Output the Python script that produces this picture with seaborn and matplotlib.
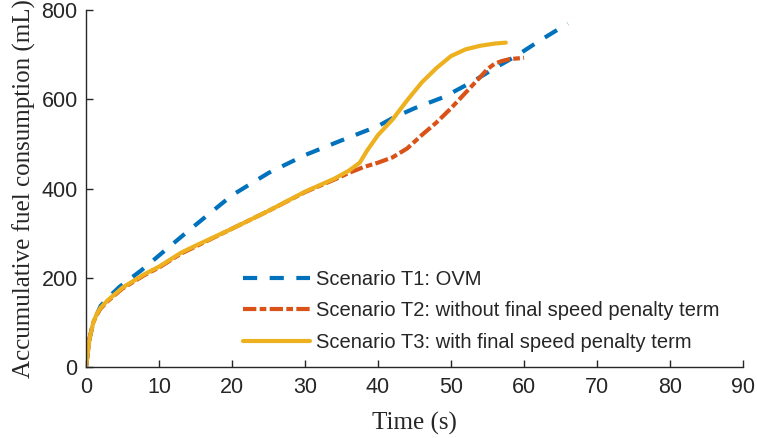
import pandas as pd
import seaborn as sns
import matplotlib
matplotlib.use("Agg")
import matplotlib.pyplot as plt

# Scenario T1: OVM
t1_time = [0, 0.5, 1, 2, 3, 4.6, 7.6, 10, 14, 17, 20, 25, 30, 35, 40, 42, 45,
           49, 53, 56, 59, 62, 64, 66]
t1_fuel = [0, 65, 100, 137, 155, 180, 217, 250, 305, 345, 385, 435, 475, 508,
           540, 558, 580, 605, 640, 670, 698, 730, 750, 770]

# Scenario T2: without final speed penalty term
t2_time = [0, 0.5, 1, 1.5, 2, 3, 5, 8, 10, 13, 15, 20, 25, 30, 34, 36, 38, 40,
           42, 44, 46, 48, 50, 52, 54, 55, 56, 57, 58, 60]
t2_fuel = [0, 65, 100, 118, 131, 148, 176, 206, 223, 254, 270, 310, 350, 392,
           420, 435, 448, 458, 470, 490, 520, 548, 580, 615, 650, 668, 680,
           686, 690, 693]

# Scenario T3: with final speed penalty term
t3_time = [0, 0.5, 1, 1.5, 2, 3, 5, 8, 10, 13, 15, 20, 25, 30, 34, 36, 37.5,
           38.5, 40, 42, 44, 46, 48, 50, 52, 54, 56, 57.5]
t3_fuel = [0, 65, 100, 120, 133, 150, 178, 208, 225, 256, 272, 310, 350, 393,
           422, 440, 458, 485, 520, 555, 598, 638, 670, 697, 712, 720, 725, 727]

labels = ["Scenario T1: OVM",
          "Scenario T2: without final speed penalty term",
          "Scenario T3: with final speed penalty term"]
colors = ["#0072BD", "#D95319", "#EDB120"]
dashes = [(3.4, 3.0), (3.2, 0.8, 1.6, 0.8), ""]

sns.set_style("ticks")
plt.rcParams["font.family"] = ["Liberation Sans", "DejaVu Sans"]

fig = plt.figure(figsize=(7.57, 4.38), dpi=100)
ax = fig.add_axes([0.1136, 0.162, 0.868, 0.815])

series = [(t1_time, t1_fuel), (t2_time, t2_fuel), (t3_time, t3_fuel)]
for (tx, fy), lab, col, ds in zip(series, labels, colors, dashes):
    df = pd.DataFrame({"t": tx, "fuel": fy})
    sns.lineplot(data=df, x="t", y="fuel", ax=ax, color=col,
                 linewidth=3, label=lab, estimator=None, sort=False)
    if ds:
        ax.lines[-1].set_dashes(ds)

ax.set_xlim(0, 90)
ax.set_ylim(0, 800)
ax.set_xticks(range(0, 91, 10))
ax.set_yticks(range(0, 801, 200))
ax.tick_params(direction="in", length=5, width=1, labelsize=15.5,
               colors="#262626")
ax.tick_params(axis="x", pad=7)
ax.tick_params(axis="y", pad=6)
for s in ["left", "bottom"]:
    ax.spines[s].set_color("#262626")
    ax.spines[s].set_linewidth(1)
sns.despine(ax=ax)

serif = ["Liberation Serif", "DejaVu Serif"]
ax.set_xlabel("Time (s)", fontsize=18, family=serif, labelpad=10)
ax.set_ylabel("Accumulative fuel consumption (mL)", fontsize=18,
              family=serif, labelpad=4)

leg = ax.legend(loc="center left", bbox_to_anchor=(0.226, 0.157),
                frameon=False, fontsize=14.5, handlelength=3.35,
                handletextpad=0.3, labelspacing=0.62, borderaxespad=0)

fig.savefig("out.png", dpi=100)
